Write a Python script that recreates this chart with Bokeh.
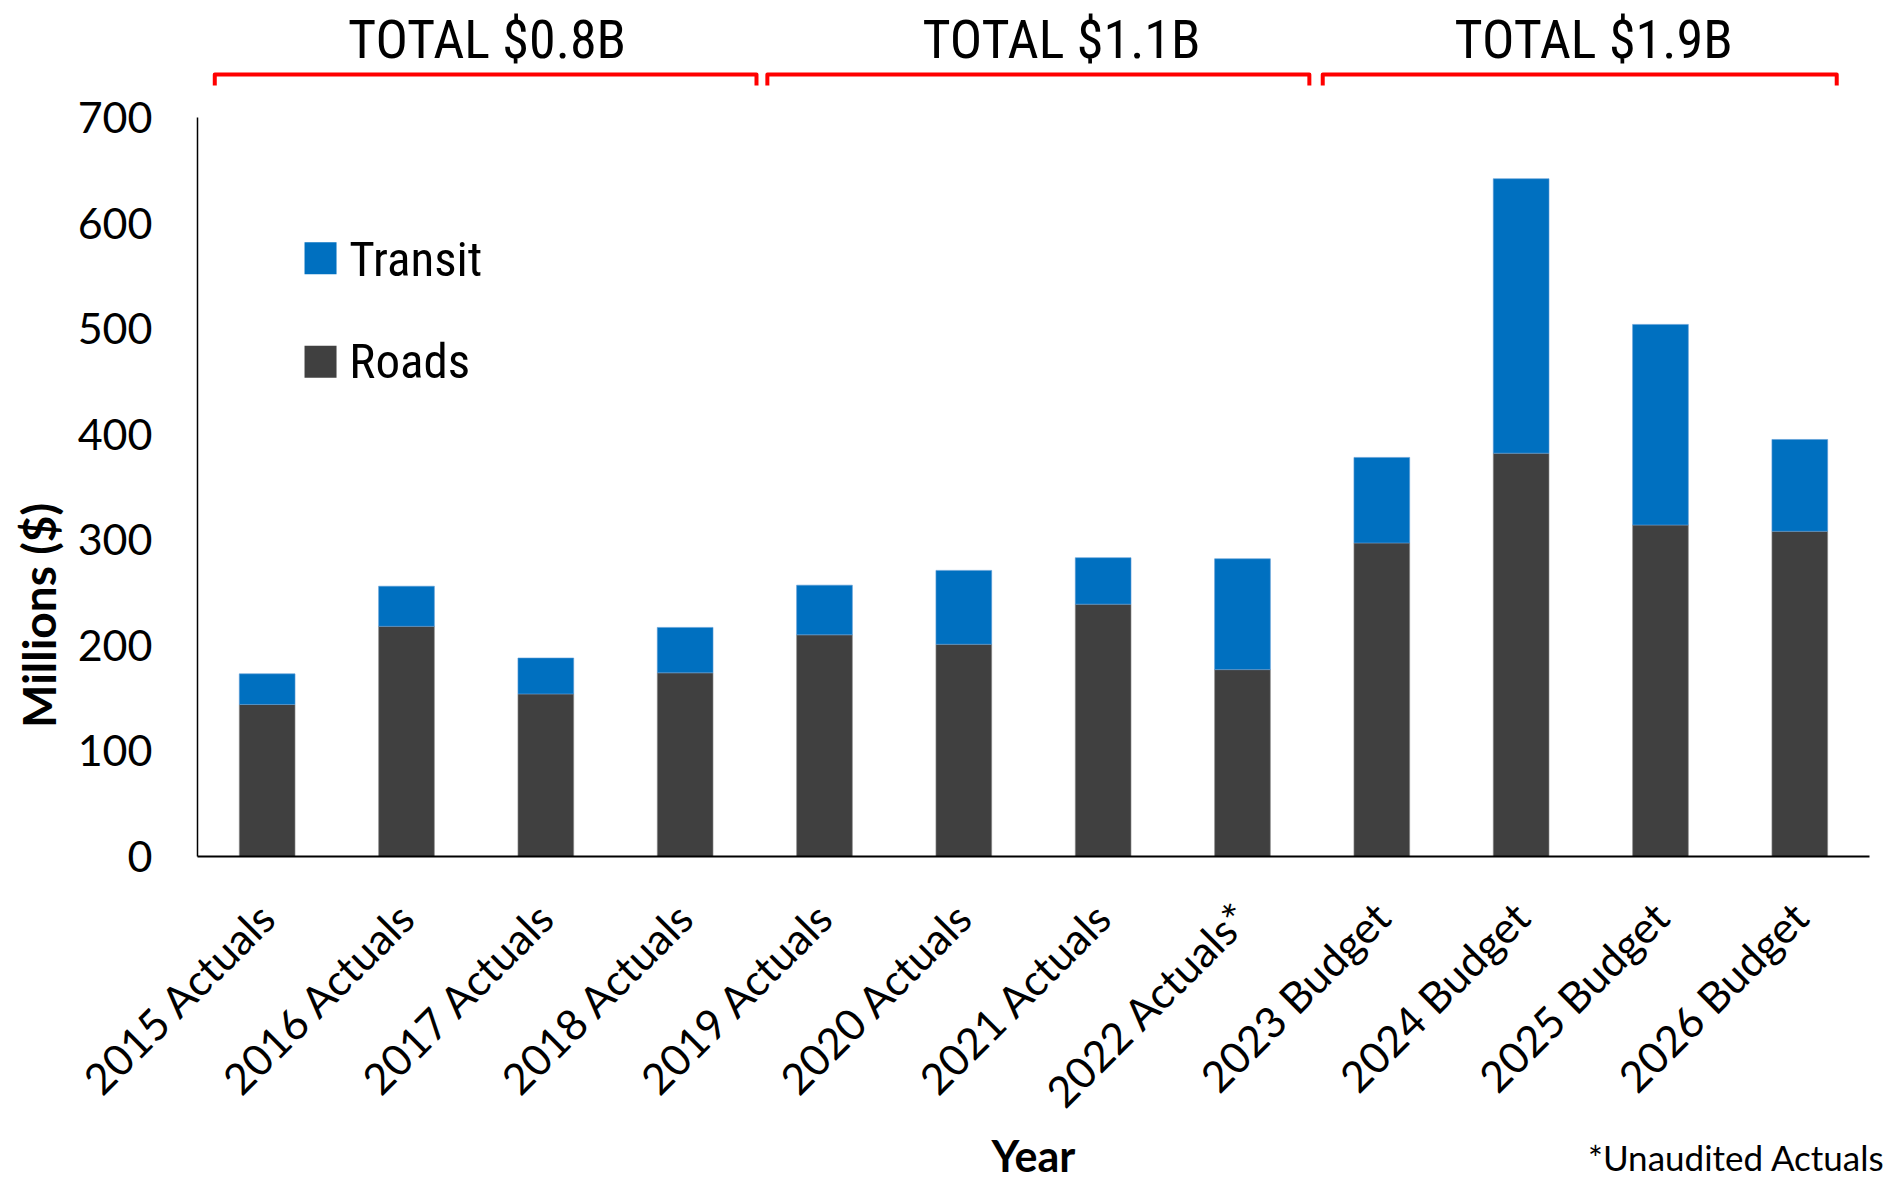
import math
from bokeh.plotting import figure
from bokeh.models import ColumnDataSource, Range1d, FixedTicker
from bokeh.embed import file_html
from bokeh.resources import INLINE
from bokeh.core.properties import value

# ---------------- data ----------------
years = ["2015 Actuals", "2016 Actuals", "2017 Actuals", "2018 Actuals",
         "2019 Actuals", "2020 Actuals", "2021 Actuals", "2022 Actuals*",
         "2023 Budget", "2024 Budget", "2025 Budget", "2026 Budget"]
roads = [144, 218, 154, 174, 210, 201, 239, 177, 297, 382, 314, 308]
transit = [29, 38, 34, 43, 47, 70, 44, 105, 81, 260, 190, 87]
group_totals = ["TOTAL $0.8B", "TOTAL $1.1B", "TOTAL $1.9B"]
y_ticks = [0, 100, 200, 300, 400, 500, 600, 700]
series_names = ["Roads", "Transit"]
x_title = "Year"
y_title = "Millions ($)"
footnote = "*Unaudited Actuals"

# ---------------- style ----------------
ROADS_C = "#404040"
TRANSIT_C = "#0070C0"
TICK_FONT = "Lato"
NARROW = "Roboto Condensed, Liberation Sans Narrow, DejaVu Sans Condensed, Roboto"

pos = list(range(len(years)))
source = ColumnDataSource(dict(x=pos, roads=roads, transit=transit))

p = figure(width=1888, height=1182,
           x_range=Range1d(-1.9139, 11.6366),
           y_range=Range1d(-308.8, 810.8),
           output_backend="svg", toolbar_location=None,
           min_border=0)
p.outline_line_color = None
p.xgrid.visible = False
p.ygrid.visible = False
p.background_fill_color = "white"

p.vbar_stack(["roads", "transit"], x="x", width=0.4, source=source,
             fill_color=[ROADS_C, TRANSIT_C],
             line_color=["#8a8a8a", "#5b9bd5"], line_width=1, line_alpha=0.6)

# axes (fixed inside the frame so that all texts share one drawing area)
yax = p.yaxis[0]
yax.fixed_location = -0.5
yax.ticker = FixedTicker(ticks=y_ticks)
yax.bounds = (0, 700)
yax.major_tick_out = 0
yax.major_tick_in = 0
yax.minor_tick_out = 0
yax.minor_tick_in = 0
yax.major_label_standoff = 45
yax.major_label_text_font = TICK_FONT
yax.major_label_text_font_size = "43px"
yax.major_label_text_color = "black"
yax.axis_line_color = "black"
yax.axis_line_width = 1.5

xax = p.xaxis[0]
xax.fixed_location = 0
xax.bounds = (-0.5, len(years) - 0.5)
xax.ticker = FixedTicker(ticks=pos)
xax.major_label_overrides = {i: name for i, name in zip(pos, years)}
xax.major_tick_out = 0
xax.major_tick_in = 0
xax.minor_tick_out = 0
xax.minor_tick_in = 0
xax.major_label_orientation = math.pi / 4
xax.major_label_standoff = 53
xax.major_label_text_font = TICK_FONT
xax.major_label_text_font_size = "43px"
xax.major_label_text_color = "black"
xax.axis_line_color = "black"
xax.axis_line_width = 2

# axis titles and footnote
p.text(x=[-1.644], y=[228.3], text=[y_title], angle=math.pi / 2,
       text_font=value(TICK_FONT), text_font_style="bold", text_font_size="46px",
       text_color="black", text_align="center", text_baseline="middle")
p.text(x=[5.5], y=[-283.0], text=[x_title],
       text_font=value(TICK_FONT), text_font_style="bold", text_font_size="43px",
       text_color="black", text_align="center", text_baseline="alphabetic")
p.text(x=[9.48], y=[-285.0], text=[footnote],
       text_font=value(TICK_FONT), text_font_size="35px",
       text_color="black", text_align="left", text_baseline="alphabetic")

# group brackets and totals
bx0 = [-0.376, 3.59, 7.576]
bx1 = [3.512, 7.48, 11.265]
y_top, y_end = 740.7, 730.3
p.multi_line(xs=[[a, a, b, b] for a, b in zip(bx0, bx1)],
             ys=[[y_end, y_top, y_top, y_end]] * 3,
             line_color="#FF0000", line_width=4, line_join="round")
p.text(x=[1.578, 5.701, 9.52], y=[774.3] * 3, text=group_totals,
       text_font=value(NARROW), text_font_size="54px", text_color="black",
       text_align="center", text_baseline="alphabetic")

# legend (manual, drawn from the series)
p.scatter(x=[0.383, 0.383], y=[566.7, 468.6], marker="square", size=32,
          fill_color=[TRANSIT_C, ROADS_C], line_color=None)
p.text(x=[0.59, 0.59], y=[565.5, 468.4], text=[series_names[1], series_names[0]],
       text_font=value(NARROW), text_font_size="49px", text_color="black",
       text_align="left", text_baseline="alphabetic")

open("out.html", "w").write(file_html(p, INLINE))
